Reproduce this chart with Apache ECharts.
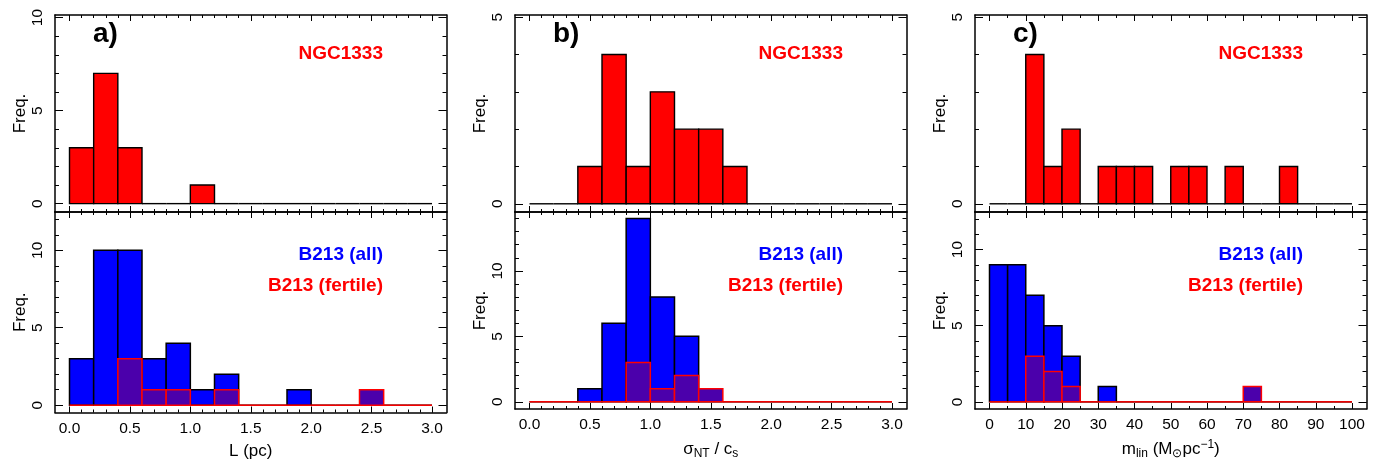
<!DOCTYPE html>
<html>
<head>
<meta charset="utf-8">
<script src="https://cdn.jsdelivr.net/npm/echarts@6/dist/echarts.min.js"></script>
<style>html,body{margin:0;padding:0;background:#fff}#c{width:1379px;height:461px}</style>
</head>
<body>
<div id="c"></div>
<script>
// ---------- data ----------
const edgesL = [0.0,0.2,0.4,0.6,0.8,1.0,1.2,1.4,1.6,1.8,2.0,2.2,2.4,2.6,2.8,3.0];
const ngcL   = [3,7,3,0,0,1,0,0,0,0,0,0,0,0,0];
const allL   = [3,10,10,3,4,1,2,0,0,1,0,0,0,0,0];
const fertL  = [0,0,3,1,1,0,1,0,0,0,0,0,1,0,0];

const edgesS = [0.0,0.2,0.4,0.6,0.8,1.0,1.2,1.4,1.6,1.8,2.0,2.2,2.4,2.6,2.8,3.0];
const ngcS   = [0,0,1,4,1,3,2,2,1,0,0,0,0,0,0];
const allS   = [0,0,1,6,14,8,5,0,0,0,0,0,0,0,0];
const fertS  = [0,0,0,0,3,1,2,1,0,0,0,0,0,0,0];

const edgesM = [0,5,10,15,20,25,30,35,40,45,50,55,60,65,70,75,80,85,90,95,100];
const ngcM   = [0,0,4,1,2,0,1,1,1,0,1,1,0,1,0,0,1,0,0,0];
const allM   = [9,9,7,5,3,0,1,0,0,0,0,0,0,0,0,0,0,0,0,0];
const fertM  = [0,0,3,2,1,0,0,0,0,0,0,0,0,0,1,0,0,0,0,0];

const xMajor13 = [0.0,0.5,1.0,1.5,2.0,2.5,3.0];
const xMinor13 = [0.0,0.1,0.2,0.3,0.4,0.5,0.6,0.7,0.8,0.9,1.0,1.1,1.2,1.3,1.4,1.5,1.6,1.7,1.8,1.9,2.0,2.1,2.2,2.3,2.4,2.5,2.6,2.7,2.8,2.9,3.0];
const xMajorM  = [0,10,20,30,40,50,60,70,80,90,100];
const xMinorM  = [0,5,10,15,20,25,30,35,40,45,50,55,60,65,70,75,80,85,90,95,100];
const yLab10 = [0,5,10];
const yMin10 = [0,1,2,3,4,5,6,7,8,9,10];
const yLab5  = [0,5];
const yMin5  = [0,1,2,3,4,5];
const yMin12 = [0,1,2,3,4,5,6,7,8,9,10,11,12];
const yMin14 = [0,1,2,3,4,5,6,7,8,9,10,11,12,13,14];

// ---------- layout ----------
const FONT = "'Liberation Sans', Arial, Helvetica, sans-serif";
const lefts = [55, 515, 975];
const W = 391.5;
const topT = 15, topH = 197, botT = 212, botH = 200.5;

const panels = [
  {edges: edgesL, top: ngcL, all: allL, fert: fertL, xr: [-0.12, 3.12], xMaj: xMajor13, xMin: xMinor13, dec: 1,
   ytop: [-0.45, 10.14], yTopLab: yLab10, yTopMin: yMin10, ybot: [-0.47, 12.47], yBotLab: yLab10, yBotMin: yMin12,
   name: 'L (pc)', letter: 'a)'},
  {edges: edgesS, top: ngcS, all: allS, fert: fertS, xr: [-0.12, 3.12], xMaj: xMajor13, xMin: xMinor13, dec: 1,
   ytop: [-0.22, 5.06], yTopLab: yLab5, yTopMin: yMin5, ybot: [-0.55, 14.5], yBotLab: yLab10, yBotMin: yMin14,
   name: '{a|σ}{sub|NT}{a| / c}{sub|s}', letter: 'b)'},
  {edges: edgesM, top: ngcM, all: allM, fert: fertM, xr: [-4, 104], xMaj: xMajorM, xMin: xMinorM, dec: 0,
   ytop: [-0.22, 5.06], yTopLab: yLab5, yTopMin: yMin5, ybot: [-0.47, 12.47], yBotLab: yLab10, yBotMin: yMin12,
   name: '{a|m}{sub|lin}{a| (M}{sub|⊙}{a|pc}{sup|−1}{a|)}', letter: 'c)'}
];

const grids = [], xAxes = [], yAxes = [], series = [], graphics = [];
const lineStyle = {color: '#000', width: 1.5};

function addX(gi, range, maj, min, dec, withLabels, name) {
  const base = {type: 'value', gridIndex: gi, min: range[0], max: range[1], splitLine: {show: false}};
  const idx = xAxes.length;
  xAxes.push(Object.assign({}, base, {
    position: 'bottom', axisLine: {show: true, onZero: false, lineStyle},
    axisTick: {show: true, inside: true, length: 6, customValues: maj, lineStyle: {color: '#000', width: 1}},
    axisLabel: {show: withLabels, customValues: maj, margin: 8, color: '#000', fontSize: 15.5, fontFamily: FONT,
      formatter: v => Number(v).toFixed(dec)},
    name: withLabels ? name : '', nameLocation: 'middle', nameGap: 30,
    nameTextStyle: {color: '#000', fontSize: 17, fontFamily: FONT,
      rich: {a: {fontSize: 17, fontFamily: FONT, color: '#000'},
             sub: {fontSize: 12, fontFamily: FONT, color: '#000', padding: [9, 0, 0, 0]},
             sup: {fontSize: 12, fontFamily: FONT, color: '#000', padding: [0, 0, 9, 0]}}}
  }));
  xAxes.push(Object.assign({}, base, {
    position: 'bottom', axisLine: {show: false, onZero: false},
    axisTick: {show: true, inside: true, length: 3, customValues: min, lineStyle: {color: '#000', width: 1}},
    axisLabel: {show: false}
  }));
  xAxes.push(Object.assign({}, base, {
    position: 'top', axisLine: {show: true, onZero: false, lineStyle},
    axisTick: {show: true, inside: true, length: 6, customValues: maj, lineStyle: {color: '#000', width: 1}},
    axisLabel: {show: false}
  }));
  xAxes.push(Object.assign({}, base, {
    position: 'top', axisLine: {show: false, onZero: false},
    axisTick: {show: true, inside: true, length: 3, customValues: min, lineStyle: {color: '#000', width: 1}},
    axisLabel: {show: false}
  }));
  return idx;
}
function addY(gi, range, lab, min) {
  const base = {type: 'value', gridIndex: gi, min: range[0], max: range[1], splitLine: {show: false}};
  const idx = yAxes.length;
  yAxes.push(Object.assign({}, base, {
    position: 'left', axisLine: {show: true, onZero: false, lineStyle},
    axisTick: {show: true, inside: true, length: 8, customValues: lab, lineStyle: {color: '#000', width: 1}},
    axisLabel: {show: true, customValues: lab, rotate: 90, margin: 9, color: '#000', fontSize: 15.5, fontFamily: FONT},
    name: 'Freq.', nameLocation: 'middle', nameGap: 25, nameRotate: 90,
    nameTextStyle: {color: '#000', fontSize: 17, fontFamily: FONT}
  }));
  yAxes.push(Object.assign({}, base, {
    position: 'left', axisLine: {show: false, onZero: false},
    axisTick: {show: true, inside: true, length: 4, customValues: min, lineStyle: {color: '#000', width: 1}},
    axisLabel: {show: false}
  }));
  yAxes.push(Object.assign({}, base, {
    position: 'right', axisLine: {show: true, onZero: false, lineStyle},
    axisTick: {show: true, inside: true, length: 8, customValues: lab, lineStyle: {color: '#000', width: 1}},
    axisLabel: {show: false}
  }));
  yAxes.push(Object.assign({}, base, {
    position: 'right', axisLine: {show: false, onZero: false},
    axisTick: {show: true, inside: true, length: 4, customValues: min, lineStyle: {color: '#000', width: 1}},
    axisLabel: {show: false}
  }));
  return idx;
}

function histData(edges, counts) {
  return counts.map((c, i) => [edges[i], edges[i + 1], c]);
}
function histSeries(xi, yi, data, fill, stroke, lw, z) {
  return {
    type: 'custom', xAxisIndex: xi, yAxisIndex: yi, z: z, silent: true, clip: false,
    data: data,
    renderItem: function (params, api) {
      const x0 = api.value(0), x1 = api.value(1), y = api.value(2);
      const p0 = api.coord([x0, 0]);
      const p1 = api.coord([x1, y]);
      if (y === 0) {
        return {type: 'line', shape: {x1: p0[0], y1: p0[1], x2: p1[0], y2: p0[1]},
                style: {stroke: stroke, lineWidth: lw}};
      }
      return {type: 'rect', shape: {x: p0[0], y: p1[1], width: p1[0] - p0[0], height: p0[1] - p1[1]},
              style: {fill: fill, stroke: stroke, lineWidth: lw}};
    }
  };
}

panels.forEach((p, k) => {
  const L = lefts[k];
  const gT = grids.length;
  grids.push({left: L, top: topT, width: W, height: topH, containLabel: false});
  const xT = addX(gT, p.xr, p.xMaj, p.xMin, p.dec, false, '');
  const yT = addY(gT, p.ytop, p.yTopLab, p.yTopMin);
  series.push(histSeries(xT, yT, histData(p.edges, p.top), '#ff0000', '#000', 1.4, 2));
  const gB = grids.length;
  grids.push({left: L, top: botT, width: W, height: botH, containLabel: false});
  const xB = addX(gB, p.xr, p.xMaj, p.xMin, p.dec, true, p.name);
  const yB = addY(gB, p.ybot, p.yBotLab, p.yBotMin);
  series.push(histSeries(xB, yB, histData(p.edges, p.all), '#0000ff', '#000', 1.5, 2));
  series.push(histSeries(xB, yB, histData(p.edges, p.fert), '#4b00ab', '#ff0000', 1.5, 3));

  graphics.push({type: 'text', left: L + 38, top: 20, z: 10,
    style: {text: p.letter, fill: '#000', font: 'bold 28px ' + FONT}});
  graphics.push({type: 'text', right: 1379 - (L + 328), top: 44, z: 10,
    style: {text: 'NGC1333', fill: '#ff0000', font: 'bold 19px ' + FONT}});
  graphics.push({type: 'text', right: 1379 - (L + 328), top: 245, z: 10,
    style: {text: 'B213 (all)', fill: '#0000ff', font: 'bold 19px ' + FONT}});
  graphics.push({type: 'text', right: 1379 - (L + 328), top: 276, z: 10,
    style: {text: 'B213 (fertile)', fill: '#ff0000', font: 'bold 19px ' + FONT}});
});

const chart = echarts.init(document.getElementById('c'), null, {renderer: 'canvas'});
chart.setOption({
  animation: false,
  backgroundColor: '#ffffff',
  grid: grids,
  xAxis: xAxes,
  yAxis: yAxes,
  series: series,
  graphic: graphics
});
</script>
</body>
</html>
